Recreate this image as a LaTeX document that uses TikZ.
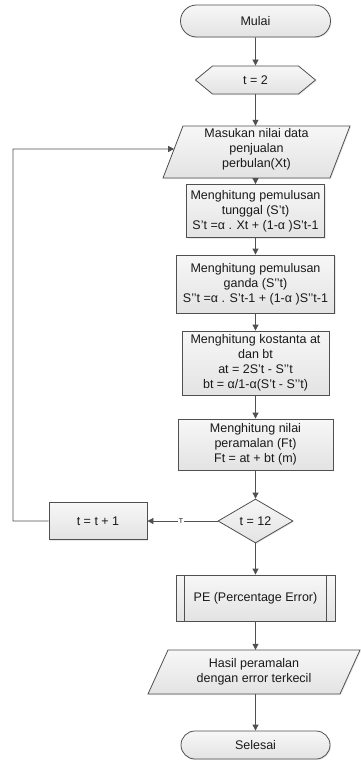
\documentclass[tikz,border=0pt]{standalone}
\usepackage{fontspec}
\newfontfamily\lib{Liberation Sans}
\usetikzlibrary{shapes.misc,shapes.symbols,shapes.geometric,arrows.meta,calc,shadows}
\definecolor{edge}{HTML}{505050}
\definecolor{ftop}{HTML}{F7F7F7}
\definecolor{fbot}{HTML}{E3E3E3}
\begin{document}
\begin{tikzpicture}[x=1pt,y=-1pt,
  every node/.style={font=\lib\fontsize{12.5}{15}\selectfont, align=center, text=black!90},
  boxfill/.style={top color=ftop, bottom color=fbot, draw=edge, line width=0.8pt,
    drop shadow={shadow xshift=1pt,shadow yshift=-1pt,opacity=0.18}},
  procbox/.style={boxfill, rectangle, inner sep=0pt},
  term/.style={boxfill, rounded rectangle, inner sep=0pt},
  hexa/.style={boxfill, signal, signal to=east and west, signal pointer angle=79, inner sep=0pt},
  decide/.style={boxfill, diamond, aspect=1.7, inner sep=0pt},
  arr/.style={draw=edge, line width=0.8pt, -{Triangle[length=6pt,width=6pt]}},
  plain/.style={draw=edge, line width=0.8pt},
  tlabel/.style={font=\lib\fontsize{7}{8}\selectfont, fill=white, inner sep=0.6pt}
]
\useasboundingbox (0,0) rectangle (361,760);

\node[term, minimum width=150, minimum height=32] (mulai) at (255.5,21) {Mulai};
\node[hexa, minimum width=120, minimum height=28] (t2) at (255.5,80) {t = 2};

% input parallelogram
\coordinate (iTL) at (183,126);
\coordinate (iTR) at (350,126);
\coordinate (iBR) at (330,178);
\coordinate (iBL) at (163,178);
\path[boxfill] (iTL) -- (iTR) -- (iBR) -- (iBL) -- cycle;
\node[minimum width=187, minimum height=52, inner sep=0pt] (inp) at (256.5,152) {};
\node (inptext) at (256.5,149) {Masukan nilai data\\penjualan\\perbulan(Xt)};
\coordinate (iL) at ($(iBL)!0.558!(iTL)$);

\node[procbox, minimum width=138, minimum height=53] (b1) at (255.5,211)
  {Menghitung pemulusan\\tunggal (S’t)\\S’t =α . Xt + (1-α )S’t-1};
\node[procbox, minimum width=158, minimum height=58] (b2) at (255.5,284)
  {Menghitung pemulusan\\ganda (S’’t)\\S’’t =α . S’t-1 + (1-α )S’’t-1};
\node[procbox, minimum width=147, minimum height=64] (b3) at (255.5,363)
  {Menghitung kostanta at\\dan bt\\at = 2S’t - S’’t\\bt = α/1-α(S’t - S’’t)};
\node[procbox, minimum width=155, minimum height=51] (b4) at (255.5,444.5)
  {Menghitung nilai\\peramalan (Ft)\\Ft = at + bt (m)};
\node[decide, minimum width=75, minimum height=44] (dia) at (255.5,521) {t = 12};
\node[procbox, minimum width=98, minimum height=37] (tt) at (98,521) {t = t + 1};

\node[procbox, minimum width=159, minimum height=46] (pe) at (255.5,598) {PE (Percentage Error)};
\draw[plain] ($(pe.north west)+(9,0)$) -- ($(pe.south west)+(9,0)$);
\draw[plain] ($(pe.north east)+(-9,0)$) -- ($(pe.south east)+(-9,0)$);

% output parallelogram
\coordinate (oTL) at (168,650);
\coordinate (oTR) at (360,650);
\coordinate (oBR) at (340,694);
\coordinate (oBL) at (148,694);
\path[boxfill] (oTL) -- (oTR) -- (oBR) -- (oBL) -- cycle;
\node[minimum width=212, minimum height=44, inner sep=0pt] (out) at (254,672)
  {Hasil peramalan\\dengan error terkecil};

\node[term, minimum width=149, minimum height=28] (selesai) at (255.5,745) {Selesai};

% connectors
\draw[arr] (mulai) -- (t2);
\draw[arr] (t2.south) -- (t2.south |- inp.north);
\draw[arr] (t2.south |- inp.south) -- (b1.north);
\draw[arr] (b1) -- (b2);
\draw[arr] (b2) -- (b3);
\draw[arr] (b3) -- (b4);
\draw[arr] (b4) -- (dia);
\draw[arr] (dia.west) -- node[tlabel, pos=0.52] {T} (tt.east);
\coordinate (lp) at (13,149);
\draw[arr] (tt.west) -| (lp) -- (iL);
\draw[arr] (dia) -- (pe);
\draw[arr] (pe.south) -- (pe.south |- out.north);
\draw[arr] (pe.south |- out.south) -- (selesai.north);
\end{tikzpicture}
\end{document}
